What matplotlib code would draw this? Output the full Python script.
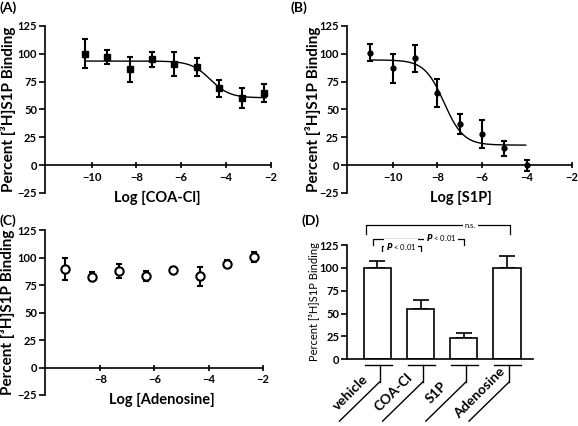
import matplotlib
matplotlib.use('Agg')
import matplotlib.pyplot as plt
import numpy as np

plt.rcParams['font.family'] = ['Lato', 'DejaVu Sans']
plt.rcParams['font.weight'] = 'bold'
plt.rcParams['axes.labelweight'] = 'bold'
plt.rcParams['axes.linewidth'] = 1.2

# (A) COA-Cl competition
coa_x = [-10.3, -9.3, -8.3, -7.3, -6.3, -5.3, -4.3, -3.3, -2.3]
coa_y = [100, 97, 86, 95, 91, 88, 69, 60, 65]
coa_err = [13, 6, 11, 7, 10.5, 8, 7.5, 9, 8]
coa_fit = dict(top=93.5, bottom=60.5, logic50=-4.7)

# (B) S1P competition
s1p_x = [-11, -10, -9, -8, -7, -6, -5, -4]
s1p_y = [101, 87, 96, 65, 37, 28, 15, 0]
s1p_err = [7.5, 13, 12, 12.5, 9, 12.5, 7, 5]
s1p_fit = dict(top=94.5, bottom=18, logic50=-7.7)

# (C) adenosine
ado_x = [-9.3, -8.3, -7.3, -6.3, -5.3, -4.3, -3.3, -2.3]
ado_y = [90, 82.5, 87.5, 83.5, 88.5, 83, 94.5, 100.5]
ado_err = [10, 4, 6.5, 4.5, 2.5, 8.5, 3, 4.5]

# (D) single concentration
groups = ['vehicle', 'COA-Cl', 'S1P', 'Adenosine']
bar_vals = [100, 54.5, 23.5, 100]
bar_err = [7.5, 10.5, 4.8, 13]

ylab = 'Percent [³H]S1P Binding'


def sigmoid(x, top, bottom, logic50):
    return bottom + (top - bottom) / (1 + 10 ** (x - logic50))


def style_axes(ax, xlim, xticks):
    ax.set_xlim(xlim)
    ax.set_ylim(-25, 125)
    ax.spines['top'].set_visible(False)
    ax.spines['right'].set_visible(False)
    ax.spines['bottom'].set_position(('data', 0))
    ax.set_xticks(xticks)
    ax.set_yticks([-25, 0, 25, 50, 75, 100, 125])
    ax.tick_params(axis='y', direction='out', length=4, width=1.2, labelsize=8, pad=1.5)
    ax.tick_params(axis='x', direction='inout', length=4, width=1.2, labelsize=8, pad=3)
    for lab in ax.get_xticklabels() + ax.get_yticklabels():
        lab.set_fontweight('bold')


fig = plt.figure(figsize=(5.78, 4.26), dpi=100)
axA = fig.add_axes([0.0773, 0.547, 0.391, 0.392])
axB = fig.add_axes([0.5998, 0.547, 0.389, 0.392])
axC = fig.add_axes([0.0773, 0.0728, 0.377, 0.387])
axD = fig.add_axes([0.600, 0.157, 0.322, 0.321])

ebkw = dict(color='black', ecolor='black', elinewidth=1.5, capsize=2.4, capthick=1.5)

# A
xs = np.linspace(-10.3, -2.2, 200)
axA.plot(xs, sigmoid(xs, **coa_fit), color='black', lw=1)
axA.errorbar(coa_x, coa_y, yerr=coa_err, fmt='s', ms=4, **ebkw)
style_axes(axA, (-12.1, -2), [-10, -8, -6, -4, -2])
axA.set_xlabel('Log [COA-Cl]', fontsize=10.5)
axA.set_ylabel(ylab, fontsize=11)
axA.xaxis.set_label_coords(0.5, -0.03)
axA.yaxis.set_label_coords(-0.161, 0.5)
axA.xaxis.label.set_va('center')
axA.yaxis.label.set_va('center')

# B
xs = np.linspace(-11, -4.05, 200)
axB.plot(xs, sigmoid(xs, **s1p_fit), color='black', lw=1)
axB.errorbar(s1p_x, s1p_y, yerr=s1p_err, fmt='o', ms=3.5, **ebkw)
style_axes(axB, (-12.05, -2), [-10, -8, -6, -4, -2])
axB.set_xlabel('Log [S1P]', fontsize=10.5)
axB.set_ylabel(ylab, fontsize=11)
axB.xaxis.set_label_coords(0.51, -0.03)
axB.yaxis.set_label_coords(-0.15, 0.5)
axB.xaxis.label.set_va('center')
axB.yaxis.label.set_va('center')

# C
axC.errorbar(ado_x, ado_y, yerr=ado_err, fmt='o', ms=6, mfc='white', mec='black', mew=1.5, **ebkw)
style_axes(axC, (-10.06, -2), [-8, -6, -4, -2])
axC.set_xlabel('Log [Adenosine]', fontsize=10.5)
axC.set_ylabel(ylab, fontsize=11)
axC.xaxis.set_label_coords(0.54, -0.03)
axC.yaxis.set_label_coords(-0.171, 0.5)
axC.xaxis.label.set_va('center')
axC.yaxis.label.set_va('center')

# D
pos = np.arange(len(groups))
axD.bar(pos, bar_vals, width=0.63, color='white', edgecolor='black', lw=1.2, zorder=2)
axD.errorbar(pos, bar_vals, yerr=[np.zeros(len(pos)), bar_err], fmt='none',
             ecolor='black', elinewidth=1.2, capsize=5.5, capthick=1.2, zorder=1)
axD.set_xlim(-0.71, 3.6)
axD.set_ylim(0, 150)
axD.spines['top'].set_visible(False)
axD.spines['right'].set_visible(False)
axD.spines['left'].set_bounds(0, 125)
axD.set_yticks([0, 25, 50, 75, 100, 125])
axD.set_xticks([])
axD.tick_params(axis='y', direction='out', length=4, width=1.2, labelsize=8, pad=1.5)
for lab in axD.get_yticklabels():
    lab.set_fontweight('bold')
axD.set_ylabel(ylab, fontsize=8, fontweight='normal')
axD.yaxis.set_label_coords(-0.175, 0.42)
axD.yaxis.label.set_va('center')

# category labels below the axis
for i, name in enumerate(groups):
    axD.plot([i - 0.3, i + 0.33], [-6, -6], color='black', lw=1, clip_on=False)
    axD.plot([i + 0.05, i + 0.05], [-6, -25], color='black', lw=1, clip_on=False)
    axD.plot([i + 0.05, i - 0.88], [-25, -68], color='black', lw=1, clip_on=False)
    axD.text(i - 0.53, -41.5, name, rotation=45, rotation_mode='anchor',
             ha='center', va='bottom', fontsize=10, fontweight='bold')

# significance brackets
bk = dict(color='black', lw=0.9, clip_on=False)
axD.plot([-0.27, -0.27, 3.08, 3.08], [137, 147, 147, 137], **bk)
axD.text(2.15, 147, 'n.s.', ha='center', va='center', fontsize=5.5, fontweight='normal',
         bbox=dict(fc='white', ec='none', pad=1.5))
axD.plot([-0.1, -0.1, 2.0, 2.0], [125, 132, 132, 125], **bk)
axD.text(1.47, 133, '$P$ < 0.01', ha='center', va='center', fontsize=5.5, fontweight='normal',
         bbox=dict(fc='white', ec='none', pad=1.5))
axD.plot([0.1, 0.1, 1.0, 1.0], [119, 124, 124, 119], **bk)
axD.text(0.55, 123, '$P$ < 0.01', ha='center', va='center', fontsize=5.5, fontweight='normal',
         bbox=dict(fc='white', ec='none', pad=1.5))

# panel letters
fig.text(0.0, 0.983, '(A)', fontsize=10, va='center', ha='left', fontweight='bold')
fig.text(0.503, 0.983, '(B)', fontsize=10, va='center', ha='left', fontweight='bold')
fig.text(0.0, 0.483, '(C)', fontsize=10, va='center', ha='left', fontweight='bold')
fig.text(0.522, 0.481, '(D)', fontsize=10, va='center', ha='left', fontweight='bold')

fig.savefig('out.png', dpi=100)
